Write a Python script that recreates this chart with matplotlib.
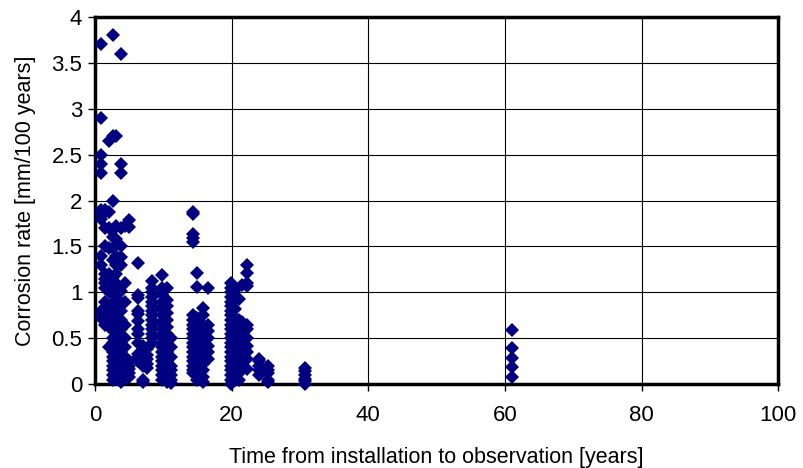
import matplotlib
matplotlib.use("Agg")
import matplotlib.pyplot as plt
from matplotlib.ticker import FormatStrFormatter, MultipleLocator

plt.rcParams['font.family'] = ['Liberation Sans', 'DejaVu Sans']

# time from installation [years] for each column of observations
times = [0.9, 1.5, 2.0, 2.7, 3.1, 3.8, 4.4, 5.0, 6.3, 7.0, 7.7, 8.4, 9.8, 10.6, 11.2,
         14.3, 15.0, 15.8, 16.6, 19.9, 20.5, 21.1, 21.6, 22.2, 24.0, 25.3, 30.8, 61.0]

# corrosion rates [mm/100 years] observed at each time
rates = [
    [3.7, 2.9, 2.5, 2.4, 2.3, 1.9, 1.85, 1.8, 1.4, 1.3, 0.8, 0.72],
    [1.9, 1.88, 1.7, 1.5, 1.2, 1.15, 1.1, 1.05, 0.9, 0.75, 0.7, 0.65],
    [2.65, 1.88, 1.7, 1.48, 1.2, 1.1, 1.0, 0.8, 0.72, 0.62, 0.4],
    [3.8, 2.7, 2.0, 1.68, 1.6, 1.48, 1.35, 1.17, 1.1, 1.0, 0.9, 0.8, 0.7, 0.6, 0.5,
     0.45, 0.4, 0.35, 0.3, 0.25, 0.2, 0.15, 0.1, 0.05],
    [2.7, 1.72, 1.58, 1.4, 1.3, 1.2, 1.1, 1.02, 0.95, 0.85, 0.78, 0.7, 0.62, 0.55, 0.48,
     0.4, 0.35, 0.3, 0.25, 0.2, 0.15, 0.1, 0.06],
    [3.6, 2.4, 2.3, 1.7, 1.5, 1.39, 1.3, 1.02, 0.88, 0.8, 0.7, 0.6, 0.5, 0.42, 0.35,
     0.28, 0.22, 0.15, 0.1, 0.05, 0.02],
    [1.72, 1.1, 0.9, 0.65, 0.5, 0.4, 0.3, 0.25, 0.2, 0.15, 0.1],
    [1.79, 1.71, 0.25, 0.2, 0.17, 0.12, 0.08],
    [1.32, 0.97, 0.94, 0.8, 0.76, 0.69, 0.6, 0.55, 0.45, 0.33, 0.3, 0.25],
    [0.42, 0.35, 0.3, 0.25, 0.2, 0.05, 0.02],
    [0.38, 0.32, 0.28, 0.22, 0.18],
    [1.12, 1.05, 1.0, 0.95, 0.9, 0.85, 0.8, 0.75, 0.7, 0.65, 0.6, 0.55, 0.5, 0.45],
    [1.19, 1.05, 0.98, 0.9, 0.83, 0.75, 0.68, 0.6, 0.55, 0.5, 0.45, 0.4, 0.35, 0.3,
     0.25, 0.2, 0.15, 0.1, 0.05],
    [1.05, 0.92, 0.85, 0.78, 0.7, 0.62, 0.55, 0.48, 0.42, 0.35, 0.3, 0.25, 0.2, 0.15,
     0.1, 0.06, 0.02],
    [0.5, 0.4, 0.3, 0.2, 0.15, 0.1, 0.05, 0.01],
    [1.88, 1.85, 1.64, 1.59, 1.55, 0.75, 0.7, 0.65, 0.6, 0.55, 0.5, 0.45, 0.4, 0.35,
     0.3, 0.25, 0.2, 0.15, 0.12],
    [1.21, 1.06, 0.72, 0.68, 0.62, 0.55, 0.5, 0.42, 0.38, 0.3, 0.25, 0.2, 0.15, 0.1, 0.05],
    [0.83, 0.75, 0.65, 0.6, 0.5, 0.45, 0.4, 0.35, 0.3, 0.22, 0.15, 0.08, 0.02],
    [1.05, 0.65, 0.58, 0.5, 0.42, 0.35, 0.28],
    [1.1, 1.05, 1.0, 0.95, 0.9, 0.85, 0.8, 0.75, 0.7, 0.65, 0.6, 0.55, 0.5, 0.45, 0.4,
     0.35, 0.3, 0.25, 0.2, 0.15, 0.1, 0.05, 0.0],
    [1.03, 0.82, 0.72, 0.62, 0.55, 0.48, 0.4, 0.33, 0.25, 0.18, 0.12, 0.05],
    [0.93, 0.7, 0.65, 0.58, 0.5, 0.45, 0.38, 0.3, 0.25, 0.18, 0.12, 0.05],
    [1.08, 0.68, 0.6, 0.52, 0.45, 0.4, 0.35, 0.3, 0.25, 0.2],
    [1.3, 1.21, 1.1, 1.07, 0.65, 0.6, 0.5, 0.42, 0.35, 0.28, 0.17],
    [0.28, 0.25, 0.2, 0.15, 0.1],
    [0.2, 0.15, 0.12, 0.05, 0.02],
    [0.18, 0.14, 0.1, 0.06, 0.03, 0.0],
    [0.59, 0.39, 0.29, 0.19, 0.08],
]

xs = []
ys = []
for t, col in zip(times, rates):
    for r in col:
        xs.append(t)
        ys.append(r)

fig = plt.figure(figsize=(8.04, 4.68), dpi=100)
ax = fig.add_axes([0.118, 0.179, 0.850, 0.785])

ax.plot(xs, ys, linestyle='none', marker='D', markersize=7,
        color='#000080', markeredgewidth=0, clip_on=False, zorder=3)

ax.set_xlim(0, 100)
ax.set_ylim(0, 4)
ax.xaxis.set_major_locator(MultipleLocator(20))
ax.yaxis.set_major_locator(MultipleLocator(0.5))
ax.yaxis.set_major_formatter(FormatStrFormatter('%g'))
ax.grid(True, color='black', linewidth=0.8)
ax.set_axisbelow(True)

for s in ax.spines.values():
    s.set_linewidth(2.5)

ax.tick_params(axis='both', direction='out', length=5, width=1, labelsize=16)
ax.tick_params(axis='x', pad=10)
ax.tick_params(axis='y', pad=4)

ax.set_xlabel("Time from installation to observation [years]", fontsize=15.5, labelpad=15)
ax.set_ylabel("Corrosion rate [mm/100 years]", fontsize=15.5, labelpad=11)

fig.savefig("out.png", dpi=100)
